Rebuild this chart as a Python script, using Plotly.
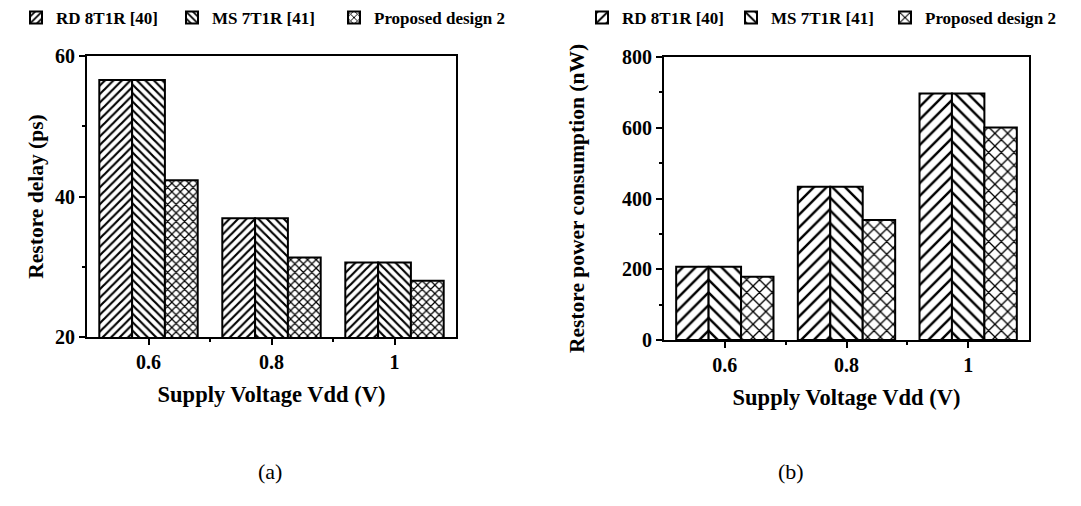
import plotly.graph_objects as go

voltages = [0.6, 0.8, 1.0]
series_names = ["RD 8T1R [40]", "MS 7T1R [41]", "Proposed design 2"]
patterns = ["/", "\\", "x"]
delay_rd = [56.6, 36.9, 30.6]
delay_ms = [56.6, 36.9, 30.6]
delay_prop = [42.3, 31.3, 28.0]
power_rd = [207, 433, 697]
power_ms = [207, 433, 697]
power_prop = [179, 339, 601]

FONT = "Liberation Serif"
W, H = 1081, 506
fig = go.Figure()

delay = [delay_rd, delay_ms, delay_prop]
power = [power_rd, power_ms, power_prop]

for i, name in enumerate(series_names):
    fig.add_trace(go.Bar(
        x=voltages, y=delay[i], name=name, xaxis="x", yaxis="y",
        legend="legend" if i == 0 else f"legend{i + 1}", offsetgroup=str(i),
        showlegend=True,
        marker=dict(color="white", line=dict(color="black", width=2),
                    pattern=dict(shape=patterns[i], fgcolor="black", bgcolor="white",
                                 fgopacity=1, size=6, solidity=0.36)),
    ))
for i, name in enumerate(series_names):
    fig.add_trace(go.Bar(
        x=voltages, y=power[i], name=name, xaxis="x2", yaxis="y2",
        legend=f"legend{i + 4}", offsetgroup=str(i), showlegend=True,
        marker=dict(color="white", line=dict(color="black", width=2),
                    pattern=dict(shape=patterns[i], fgcolor="black", bgcolor="white",
                                 fgopacity=1, size=9, solidity=0.27)),
    ))

tickfont = dict(family=FONT, size=20, color="black", weight="bold")
legfont = dict(family=FONT, size=17, color="black", weight="bold")

def titlefont(size):
    return dict(family=FONT, size=size, color="black", weight="bold")

def xax(domain, anchor):
    return dict(domain=domain, anchor=anchor, range=[0.5, 1.1],
                tickmode="array", tickvals=voltages, ticktext=["0.6", "0.8", "1"],
                ticks="outside", ticklen=6, tickwidth=2, tickcolor="black",
                minor=dict(tickmode="array", tickvals=[0.7, 0.9], ticks="outside",
                           ticklen=3, tickwidth=2, tickcolor="black"),
                showline=True, linewidth=2, linecolor="black", mirror=True,
                showgrid=False, zeroline=False, tickfont=tickfont,
                title=dict(text="Supply Voltage Vdd (V)", font=titlefont(22.5), standoff=14))

def yax(domain, anchor, rng, dtick, minor, title, tsize, standoff):
    return dict(domain=domain, anchor=anchor, range=rng, dtick=dtick, tick0=rng[0],
                ticks="outside", ticklen=6, tickwidth=2, tickcolor="black",
                minor=dict(dtick=minor, ticks="outside", ticklen=3, tickwidth=2,
                           tickcolor="black"),
                showline=True, linewidth=2, linecolor="black", mirror=True,
                showgrid=False, zeroline=False, tickfont=tickfont,
                title=dict(text=title, font=titlefont(tsize), standoff=standoff))

# text start positions of legend entries (px)
legend_text_x = [57, 213, 375, 623, 772, 926]
legends = {}
for k, tx in enumerate(legend_text_x):
    key = "legend" if k == 0 else f"legend{k + 1}"
    legends[key] = dict(orientation="h", x=(tx - 41) / W, y=1.0,
                        xanchor="left", yanchor="top", font=legfont,
                        bgcolor="rgba(0,0,0,0)")

fig.update_layout(
    width=W, height=H, showlegend=True,
    margin=dict(l=0, r=0, t=0, b=0, autoexpand=False),
    paper_bgcolor="white", plot_bgcolor="white",
    barmode="group", bargap=0.2, bargroupgap=0,
    xaxis=xax([87 / W, 456 / W], "y"),
    yaxis=yax([1 - 337 / H, 1 - 56 / H], "x", [20, 60], 20, 10,
              "Restore delay (ps)", 21.5, 5),
    xaxis2=xax([664 / W, 1029 / W], "y2"),
    yaxis2=yax([1 - 340 / H, 1 - 57 / H], "x2", [0, 800], 200, 100,
               "Restore power consumption (nW)", 21.5, 31),
    annotations=[
        dict(text="(a)", x=270 / W, y=1 - 471 / H, xref="paper", yref="paper",
             xanchor="center", yanchor="middle",
             showarrow=False, font=dict(family=FONT, size=22, color="black")),
        dict(text="(b)", x=791 / W, y=1 - 471 / H, xref="paper", yref="paper",
             xanchor="center", yanchor="middle",
             showarrow=False, font=dict(family=FONT, size=22, color="black")),
    ],
    **legends,
)

fig.write_html("out.html", config={"displayModeBar": False},
               post_script="document.body.style.margin='0px';")
